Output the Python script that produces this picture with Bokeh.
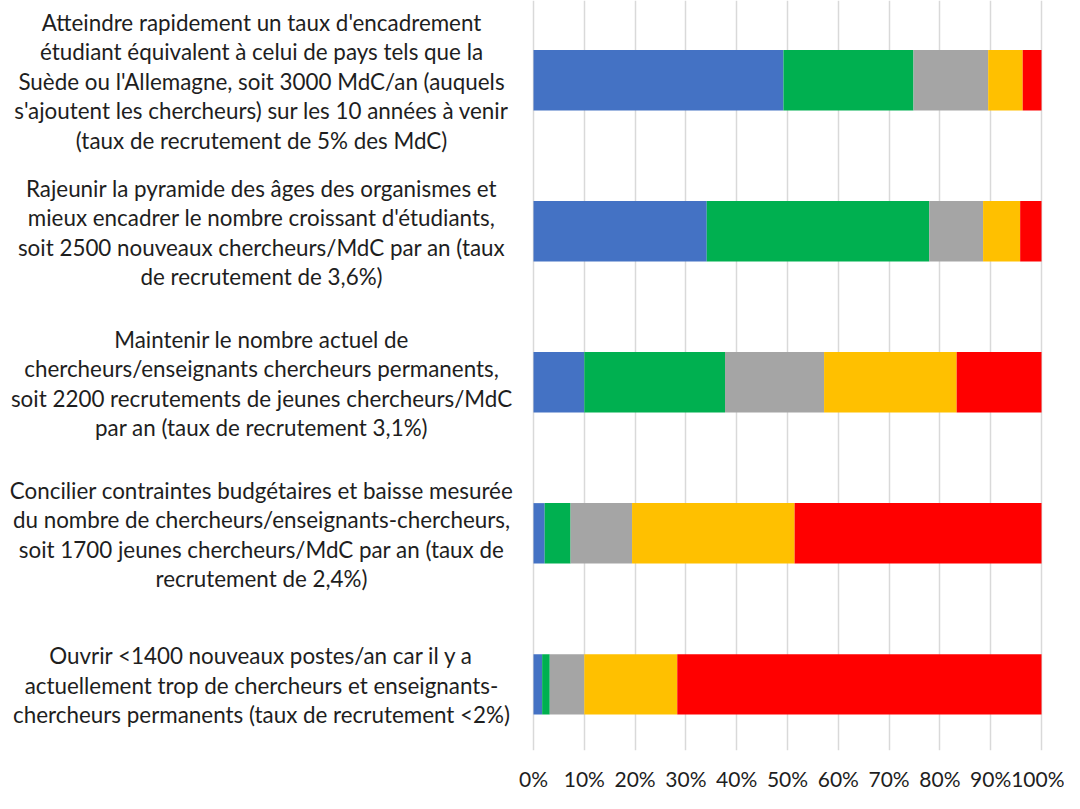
from bokeh.plotting import figure
from bokeh.models import ColumnDataSource, Range1d, FixedTicker, PrintfTickFormatter
from bokeh.embed import file_html
from bokeh.resources import INLINE
from bokeh.core.properties import value

# ---- data ----
labels = [
    ["Atteindre rapidement un taux d'encadrement",
     "étudiant équivalent à celui de pays tels que la",
     "Suède ou l'Allemagne, soit 3000 MdC/an (auquels",
     "s'ajoutent les chercheurs) sur les 10 années à venir",
     "(taux de recrutement de 5% des MdC)"],
    ["Rajeunir la pyramide des âges des organismes et",
     "mieux encadrer le nombre croissant d'étudiants,",
     "soit 2500 nouveaux chercheurs/MdC par an (taux",
     "de recrutement de 3,6%)"],
    ["Maintenir le nombre actuel de",
     "chercheurs/enseignants chercheurs permanents,",
     "soit 2200 recrutements de jeunes chercheurs/MdC",
     "par an (taux de recrutement 3,1%)"],
    ["Concilier contraintes budgétaires et baisse mesurée",
     "du nombre de chercheurs/enseignants-chercheurs,",
     "soit 1700 jeunes chercheurs/MdC par an (taux de",
     "recrutement de 2,4%)"],
    ["Ouvrir <1400 nouveaux postes/an car il y a",
     "actuellement trop de chercheurs et enseignants-",
     "chercheurs permanents (taux de recrutement <2%)"],
]
blue = [49.2, 34.1, 10.0, 2.2, 1.7]
green = [25.6, 43.8, 27.7, 5.1, 1.5]
gray = [14.7, 10.6, 19.5, 12.1, 6.8]
yellow = [6.8, 7.3, 26.1, 32.0, 18.3]
red = [3.7, 4.2, 16.7, 48.6, 71.7]
x_ticks = [0, 10, 20, 30, 40, 50, 60, 70, 80, 90, 100]

series = ["s1", "s2", "s3", "s4", "s5"]
colors = ["#4472C4", "#00B050", "#A5A5A5", "#FFC000", "#FF0000"]

pos = list(range(len(labels)))
src = ColumnDataSource(dict(y=pos, s1=blue, s2=green, s3=gray, s4=yellow, s5=red))

FONT = "Lato"
TXT = "#1e1e1e"

p = figure(width=1064, height=793, output_backend="svg", toolbar_location=None,
           x_range=Range1d(-104.92, 100.59), y_range=Range1d(4.438, -0.528),
           min_border_top=0, min_border_left=0, min_border_right=20,
           min_border_bottom=41)
p.outline_line_color = None
p.background_fill_color = "white"
p.border_fill_color = "white"

p.hbar_stack(series, y="y", height=0.4, color=colors, source=src, line_color=None)

# category labels (centered multi-line text to the left of the bars)
tx, ty, tt, toff = [], [], [], []
LINE = 29.5
for i, lines in enumerate(labels):
    n = len(lines)
    for j, line in enumerate(lines):
        tx.append(-53.54)
        ty.append(i)
        tt.append(line)
        toff.append((j - (n - 1) / 2) * LINE + 1)
tsrc = ColumnDataSource(dict(x=tx, y=ty, t=tt, off=toff))
p.text(x="x", y="y", text="t", y_offset="off", source=tsrc,
       text_align="center", text_baseline="middle",
       text_font=value(FONT), text_font_size="22.4px", text_color=TXT)

p.yaxis.visible = False
p.ygrid.visible = False

ax = p.xaxis[0]
ax.ticker = FixedTicker(ticks=x_ticks)
ax.formatter = PrintfTickFormatter(format="%d%%")
ax.axis_line_color = None
ax.major_tick_line_color = None
ax.minor_tick_line_color = None
ax.major_tick_out = 0
ax.major_tick_in = 0
ax.major_label_standoff = 15
ax.major_label_text_font = FONT
ax.major_label_text_font_size = "21px"
ax.major_label_text_color = TXT

p.xgrid.ticker = FixedTicker(ticks=x_ticks)
p.xgrid.grid_line_color = "#D9D9D9"
p.xgrid.grid_line_width = 1.5

open("out.html", "w").write(file_html(p, INLINE))
